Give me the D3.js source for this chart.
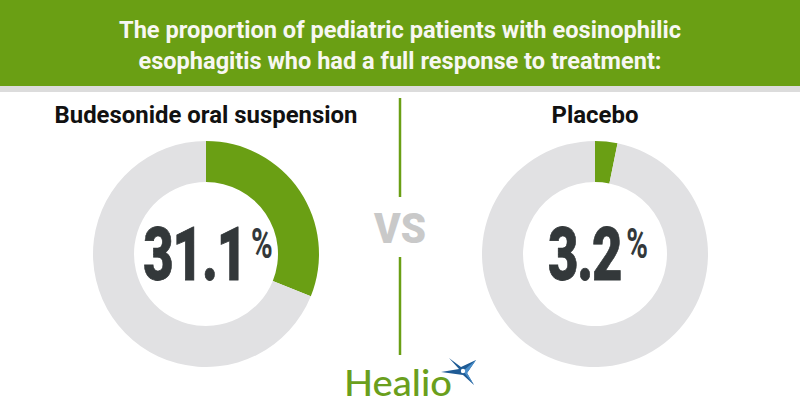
<!DOCTYPE html>
<html><head><meta charset="utf-8">
<script src="https://cdn.jsdelivr.net/npm/d3@7"></script>
<style>html,body{margin:0;padding:0;background:#fff;}svg{display:block;}</style>
</head><body><svg id="c" width="800" height="420"></svg>
<script>
const titleLines = ["The proportion of pediatric patients with eosinophilic", "esophagitis who had a full response to treatment:"];
const groups = ["Budesonide oral suspension", "Placebo"];
const values = [31.1, 3.2];
const valueLabels = ["31.1", "3.2"];
const vsLabel = "VS";
const brand = "Healio";

const W = 800, H = 420;
const green = "#6a9f14", ringGray = "#e1e1e3", dark = "#33383a";
const svg = d3.select("#c");

svg.append("rect").attr("x",0).attr("y",0).attr("width",W).attr("height",86).attr("fill",green);
svg.append("rect").attr("x",0).attr("y",86).attr("width",W).attr("height",6).attr("fill","#dcdcdc");

const titleLens = [562, 523];
svg.selectAll("text.title").data(titleLines).join("text")
  .attr("class","title")
  .attr("x", W/2).attr("y",(d,i)=>38 + i*31)
  .attr("text-anchor","middle")
  .attr("font-family","Roboto, sans-serif").attr("font-weight",700).attr("font-size",24)
  .attr("fill","#f7f7f2")
  .attr("textLength",(d,i)=>titleLens[i]).attr("lengthAdjust","spacingAndGlyphs")
  .text(d=>d);

const x = d3.scalePoint().domain(groups).range([206, 595]);
const cy = 254, R = 113, r = 72;
const arc = d3.arc().innerRadius(r).outerRadius(R);
const pie = d3.pie().sort(null).value(d=>d);
const subLens = [303, 87];
const valCx = [208, 598];

groups.forEach((g,i)=>{
  const cx = x(g);
  const gr = svg.append("g").attr("transform",`translate(${cx},${cy})`);
  gr.selectAll("path").data(pie([values[i], 100-values[i]])).join("path")
    .attr("d",arc).attr("fill",(d,j)=>j===0?green:ringGray);
  svg.append("text").attr("x",cx).attr("y",123).attr("text-anchor","middle")
    .attr("font-family","Roboto, sans-serif").attr("font-weight",700).attr("font-size",23)
    .attr("fill","#111").attr("textLength",subLens[i]).attr("lengthAdjust","spacingAndGlyphs").text(g);
  const t = svg.append("text").attr("text-anchor","middle")
    .attr("transform",`translate(${valCx[i]},280) scale(0.7,1)`)
    .attr("font-family","Roboto, sans-serif").attr("font-weight",900).attr("fill",dark);
  t.append("tspan").attr("font-size",75).attr("stroke",dark).attr("stroke-width",0.8).attr("letter-spacing",-1.5).text(valueLabels[i]);
  t.append("tspan").attr("font-size",42).attr("font-weight",700).attr("dx",7).attr("dy",-22).text("%");
});

// divider
svg.append("line").attr("x1",400).attr("x2",400).attr("y1",98).attr("y2",197).attr("stroke",green).attr("stroke-width",2.5);
svg.append("line").attr("x1",400).attr("x2",400).attr("y1",257).attr("y2",355).attr("stroke",green).attr("stroke-width",2.5);
svg.append("text").attr("x",400).attr("y",243).attr("text-anchor","middle")
  .attr("font-family","Roboto, sans-serif").attr("font-weight",900).attr("font-size",43)
  .attr("fill","#c9c9c9").attr("textLength",52).attr("lengthAdjust","spacingAndGlyphs").text(vsLabel);

// logo
svg.append("text").attr("x",344).attr("y",396)
  .attr("font-family","Lato, 'Open Sans', sans-serif").attr("font-weight",500).attr("font-size",36)
  .attr("fill","#6a9f1d").attr("textLength",108).attr("lengthAdjust","spacingAndGlyphs").text(brand);
const star = svg.append("g").attr("transform","translate(463,371)");
star.append("path").attr("d","M-14,-13 L-2,-4 L13,-11 L4,2 L11,14 L0,4 L-22,1 L-4,-2 Z").attr("fill","#1e5b95");
star.append("path").attr("d","M0,0 L13,-11 L4,2 L11,14 Z").attr("fill","#4a8fcb");
star.append("circle").attr("r",2.2).attr("fill","#fff");
</script></body></html>
